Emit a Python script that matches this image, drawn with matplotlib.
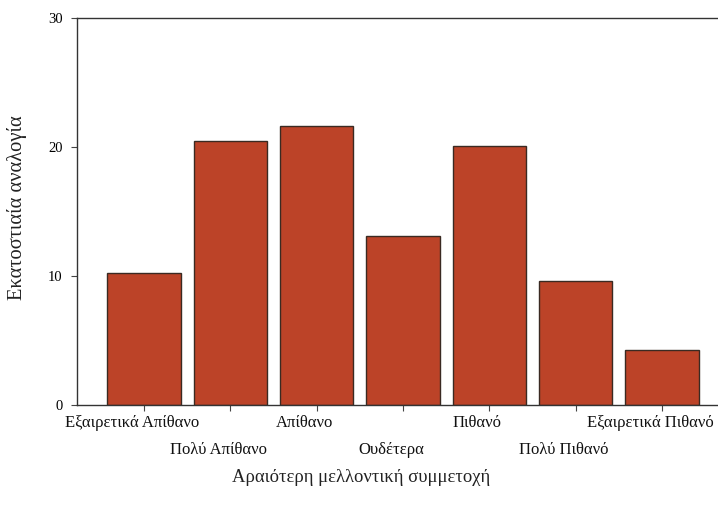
import matplotlib
matplotlib.use("Agg")
import matplotlib.pyplot as plt
from matplotlib.transforms import ScaledTranslation, blended_transform_factory

categories = ["Εξαιρετικά Απίθανο", "Πολύ Απίθανο", "Απίθανο", "Ουδέτερα",
              "Πιθανό", "Πολύ Πιθανό", "Εξαιρετικά Πιθανό"]
values = [10.2, 20.5, 21.6, 13.1, 20.1, 9.6, 4.3]
yticks = [0, 10, 20, 30]

plt.rcParams['font.family'] = ['Liberation Serif', 'DejaVu Serif']

W, H = 718, 514
fig = plt.figure(figsize=(W / 100, H / 100), dpi=100)
left, right, top, bottom = 77, 729, 18, 405
ax = fig.add_axes([left / W, 1 - bottom / H, (right - left) / W, (bottom - top) / H])

x = list(range(len(categories)))
ax.bar(x, values, width=0.85, color='#BC4328', edgecolor='#3a2a22', linewidth=1.0)

ax.set_xlim(-0.776, len(categories) - 1 + 0.776)
ax.set_ylim(0, 30)
ax.set_yticks(yticks)
ax.set_yticklabels([str(t) for t in yticks], fontsize=10.5)
ax.set_xticks(x)
ax.set_xticklabels([])
ax.tick_params(axis='both', direction='out', length=4, width=0.8, color='#444444')
ax.tick_params(axis='y', pad=6.5)

base = blended_transform_factory(ax.transData, ax.transAxes)
for i, c in enumerate(categories):
    dy = -18 if i % 2 == 0 else -45
    tr = base + ScaledTranslation(-12 / 100, dy / 100, fig.dpi_scale_trans)
    ax.text(i, 0, c, transform=tr, fontsize=12, ha='center', va='center',
            color='#111111')

for s in ['left', 'top', 'bottom']:
    ax.spines[s].set_color('#333333')
    ax.spines[s].set_linewidth(1.0)
ax.spines['right'].set_visible(False)

fig.text(17 / W, 1 - 208 / H, "Εκατοστιαία αναλογία", rotation=90, fontsize=14.8,
         ha='center', va='center', color='#222222')
fig.text(361 / W, 1 - 477 / H, "Αραιότερη μελλοντική συμμετοχή", fontsize=13.4,
         ha='center', va='center', color='#222222')

fig.savefig("out.png", dpi=100)
